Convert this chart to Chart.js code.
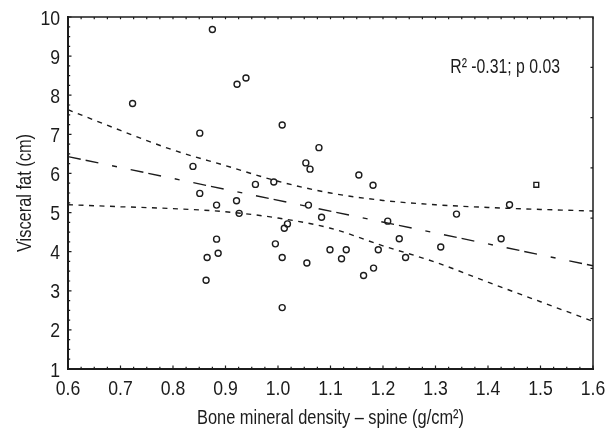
<!DOCTYPE html>
<html>
<head>
<meta charset="utf-8">
<script src="https://cdn.jsdelivr.net/npm/chart.js@4.4.1/dist/chart.umd.min.js"></script>
<style>
  html, body { margin: 0; padding: 0; background: #fff; }
  #wrap { width: 615px; height: 430px; }
</style>
</head>
<body>
<div id="wrap"><canvas id="bmd_chart"></canvas></div>
<script>
// bone mineral density (spine) vs visceral fat
const bmdX = [0.723, 0.875, 0.922, 0.939, 0.851, 1.008, 0.838, 0.851, 0.957, 0.992,
  0.921, 0.883, 1.053, 1.061, 1.058, 0.926, 1.078, 1.154, 1.181, 1.441,
  1.340, 1.018, 1.012, 0.883, 0.995, 0.886, 0.865, 1.008, 1.055, 0.863,
  1.008, 1.083, 1.209, 1.231, 1.425, 1.099, 1.130, 1.121, 1.191, 1.243,
  1.310, 1.163, 1.182];
const fatY = [7.79, 9.68, 8.28, 8.44, 7.03, 7.24, 6.18, 5.49, 5.72, 5.78,
  5.30, 5.19, 6.27, 6.11, 5.19, 4.98, 6.66, 5.96, 5.70, 5.20,
  4.96, 4.71, 4.60, 4.32, 4.20, 3.96, 3.85, 3.85, 3.71, 3.27,
  2.57, 4.88, 4.78, 4.33, 4.33, 4.05, 4.05, 3.82, 4.05, 3.85,
  4.12, 3.39, 3.58];
// the single square marker
const squareX = [1.492];
const squareY = [5.71];

// fitted line and 95% band
const fitX = [0.6, 1.6];
const fitY = [6.43, 3.64];
const bandX = [0.6, 0.7, 0.8, 0.9, 1.0, 1.1, 1.2, 1.3, 1.4, 1.5, 1.6];
const bandUpper = [7.63, 7.10, 6.60, 6.20, 5.80, 5.50, 5.31, 5.20, 5.13, 5.08, 5.04];
const bandLower = [5.20, 5.15, 5.10, 5.02, 4.86, 4.60, 4.15, 3.73, 3.22, 2.72, 2.22];

const xTicks = [0.6, 0.7, 0.8, 0.9, 1.0, 1.1, 1.2, 1.3, 1.4, 1.5, 1.6];
const yTicks = [1, 2, 3, 4, 5, 6, 7, 8, 9, 10];
const xTitle = 'Bone mineral density \u2013 spine (g/cm\u00B2)';
const yTitle = 'Visceral fat (cm)';
const statText = 'R\u00B2 -0.31; p 0.03';

const FONT = '"Liberation Sans", Arial, Helvetica, sans-serif';
const INK = '#1c1c1c';

const toPts = (xs, ys) => xs.map((x, i) => ({x: x, y: ys[i]}));

// the original uses a condensed face, so squeeze regular text sideways
function narrowText(ctx, str, x, y, size, sx, align, rotate) {
  ctx.save();
  ctx.translate(x, y);
  if (rotate) ctx.rotate(-Math.PI / 2);
  ctx.scale(sx, 1);
  ctx.font = size + 'px ' + FONT;
  ctx.textAlign = align;
  ctx.textBaseline = 'alphabetic';
  ctx.fillText(str, 0, 0);
  ctx.restore();
}

// inward tick marks, box frame, labels and the stats note
const framePlugin = {
  id: 'frame',
  afterDraw(chart) {
    const {ctx, chartArea: a, scales: {x, y}} = chart;
    ctx.save();
    ctx.strokeStyle = INK;
    ctx.lineWidth = 1.5;
    ctx.beginPath();
    ctx.moveTo(a.left, a.top);
    ctx.lineTo(a.right, a.top);
    ctx.lineTo(a.right, a.bottom);
    ctx.stroke();

    ctx.lineWidth = 1.2;
    ctx.beginPath();
    // x: minor every 0.025, major every 0.1
    for (let i = 0; i <= 40; i++) {
      const px = x.getPixelForValue(x.min + i * 0.025);
      const len = i % 4 === 0 ? 3.5 : 2.2;
      ctx.moveTo(px, a.bottom); ctx.lineTo(px, a.bottom - len);
      ctx.moveTo(px, a.top); ctx.lineTo(px, a.top + 2.2);
    }
    // y: minor every 0.25, major every 1
    for (let i = 0; i <= 36; i++) {
      const py = y.getPixelForValue(y.min + i * 0.25);
      const len = i % 4 === 0 ? 3.5 : 2.2;
      ctx.moveTo(a.left, py); ctx.lineTo(a.left + len, py);
    }
    // right border carries 7 evenly spaced ticks
    for (let i = 1; i < 7; i++) {
      const py = a.top + (a.bottom - a.top) * i / 7;
      ctx.moveTo(a.right, py); ctx.lineTo(a.right - 2.5, py);
    }
    ctx.stroke();

    ctx.fillStyle = INK;
    xTicks.forEach(v => {
      narrowText(ctx, v.toFixed(1), x.getPixelForValue(v), a.bottom + 26, 21, 0.84, 'center');
    });
    yTicks.forEach(v => {
      narrowText(ctx, String(v), a.left - 8, y.getPixelForValue(v) + 7.5, 21, 0.84, 'right');
    });
    narrowText(ctx, xTitle, (a.left + a.right) / 2, a.bottom + 55, 20, 0.82, 'center');
    narrowText(ctx, yTitle, 31, (a.top + a.bottom) / 2, 20, 0.82, 'center', true);
    narrowText(ctx, statText, a.right - 33, a.top + 56, 20, 0.79, 'right');
    ctx.restore();
  }
};

const ctx = document.getElementById('bmd_chart').getContext('2d');

new Chart(ctx, {
  type: 'scatter',
  data: {
    datasets: [
      {
        label: 'subjects',
        data: toPts(bmdX, fatY),
        pointStyle: 'circle',
        pointRadius: 3,
        pointBorderWidth: 1.4,
        pointBorderColor: INK,
        pointBackgroundColor: 'rgba(0,0,0,0)'
      },
      {
        label: 'square',
        data: toPts(squareX, squareY),
        pointStyle: 'rect',
        pointRadius: 3.4,
        pointBorderWidth: 1.4,
        pointBorderColor: INK,
        pointBackgroundColor: 'rgba(0,0,0,0)'
      },
      {
        label: 'fit',
        type: 'line',
        data: toPts(fitX, fitY),
        borderColor: INK,
        borderWidth: 1.4,
        borderDash: [13, 5, 13, 14, 5, 14],
        pointRadius: 0,
        fill: false
      },
      {
        label: 'upper',
        type: 'line',
        data: toPts(bandX, bandUpper),
        borderColor: INK,
        borderWidth: 1.4,
        borderDash: [5, 5.5],
        cubicInterpolationMode: 'monotone',
        pointRadius: 0,
        fill: false
      },
      {
        label: 'lower',
        type: 'line',
        data: toPts(bandX, bandLower),
        borderColor: INK,
        borderWidth: 1.4,
        borderDash: [5, 5.5],
        cubicInterpolationMode: 'monotone',
        pointRadius: 0,
        fill: false
      }
    ]
  },
  options: {
    responsive: true,
    maintainAspectRatio: false,
    animation: false,
    layout: { padding: { left: 0, top: 17, right: 22, bottom: 0 } },
    plugins: {
      legend: { display: false },
      tooltip: { enabled: false }
    },
    scales: {
      x: {
        type: 'linear',
        min: 0.6,
        max: 1.6,
        afterBuildTicks: (s) => { s.ticks = xTicks.map(v => ({value: v})); },
        afterFit: (s) => { s.height = 61; },
        grid: { display: false, drawTicks: false },
        border: { display: true, color: INK, width: 2 },
        ticks: { display: false },
        title: { display: false }
      },
      y: {
        type: 'linear',
        min: 1,
        max: 10,
        afterBuildTicks: (s) => { s.ticks = yTicks.map(v => ({value: v})); },
        afterFit: (s) => { s.width = 68; },
        grid: { display: false, drawTicks: false },
        border: { display: true, color: INK, width: 2 },
        ticks: { display: false },
        title: { display: false }
      }
    }
  },
  plugins: [framePlugin]
});
</script>
</body>
</html>
